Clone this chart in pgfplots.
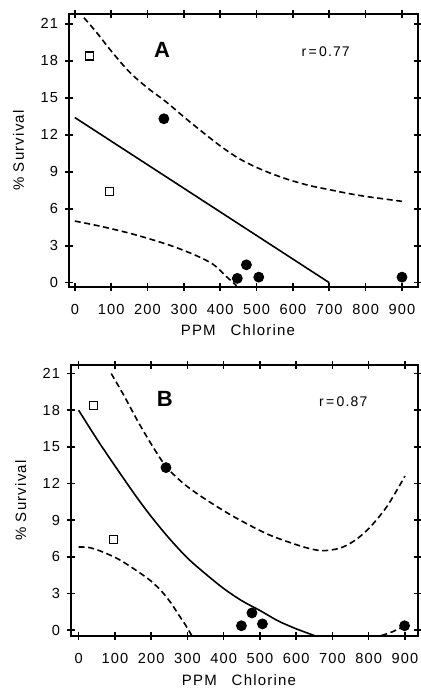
\documentclass[border=0pt]{standalone}
\usepackage{fontspec}
\setmainfont{Liberation Sans}
\newfontfamily\spaced[LetterSpace=8]{Liberation Sans}
\usepackage{pgfplots}
\pgfplotsset{compat=1.18}

\pgfplotsset{
  chl/.style={
    scale only axis,
    xtick={0,100,...,900},
    ytick={0,3,...,21},
    tick align=center,
    major tick length=4pt,
    axis line style={line width=1pt},
    every tick/.style={line width=0.8pt, black},
    tick label style={font=\fontsize{7.3}{7}\spaced},
    xticklabel style={yshift=-3pt},
    /pgf/number format/assume math mode=true,
    xlabel={PPM\quad Chlorine},
    ylabel={\% Survival},
    label style={font=\fontsize{7.5}{8}\spaced},
    ylabel style={at={(axis description cs:-0.145,0.5)}, anchor=center},
  },
  pts/.style={only marks, mark=*, mark size=2.5pt, black},
  sqs/.style={only marks, mark=square, mark size=2pt, black, mark options={line width=0.6pt}},
  fitline/.style={black, line width=0.8pt, smooth, no marks},
  band/.style={black, line width=0.8pt, smooth, no marks, dash pattern=on 3pt off 1.8pt},
}

\begin{document}
\begin{tikzpicture}
% page = 420 x 689 px at 0.5pt per px, top axis corner near px (70,14)
\path[use as bounding box] (-34.5pt,7pt) rectangle (175.5pt,-337.5pt);

% panel A
\begin{axis}[chl,
  at={(0,0)}, anchor=north west,
  width=174.5pt, height=136.5pt,
  xmin=-16, xmax=944, ymin=-0.35, ymax=21.8,
  xlabel style={at={(axis description cs:0.484,-0.158)}, anchor=center},
]
\addplot[sqs] coordinates {(40,18.4) (95,7.4)};
\addplot[pts] coordinates {(245,13.3) (447,0.35) (472,1.45) (506,0.45) (900,0.45)};
\addplot[fitline] coordinates {(0,13.4) (700,0)};
\addplot[band] coordinates {
  (25,21.5) (60,20.3) (100,18.8) (150,17.1) (200,15.8) (250,14.7)
  (300,13.45) (350,12.25) (400,11.1) (450,10.1) (500,9.35) (550,8.75)
  (600,8.25) (650,7.85) (700,7.55) (750,7.25) (800,7.0) (850,6.8) (900,6.6)};
\addplot[band] coordinates {
  (0,5.0) (75,4.55) (165,3.9) (260,3.05) (330,2.25) (380,1.5) (415,0.55) (445,-0.25)};
\node[font=\fontsize{11}{11}\selectfont\bfseries] at (axis cs:240,18.9) {A};
\node[font=\fontsize{7}{7}\spaced] at (axis cs:690,18.75) {r\,=\,0.77};
\end{axis}

% panel B
\begin{axis}[chl,
  at={(1pt,-175.5pt)}, anchor=north west,
  width=173.5pt, height=135.5pt,
  xmin=-21, xmax=936, ymin=-0.49, ymax=21.7,
  xlabel style={at={(axis description cs:0.484,-0.162)}, anchor=center},
]
\addplot[sqs] coordinates {(41,18.4) (96,7.4)};
\addplot[pts] coordinates {(241,13.3) (449,0.35) (478,1.4) (507,0.5) (899,0.35)};
\addplot[fitline] coordinates {
  (0,18.0) (60,15.2) (150,11.3) (200,9.3) (250,7.5) (300,5.9) (350,4.6)
  (400,3.4) (450,2.4) (500,1.6) (550,0.75) (600,0.1) (650,-0.45)};
\addplot[band] coordinates {
  (90,21.0) (125,19.2) (165,17.0) (205,15.0) (241,13.4) (285,12.1) (330,11.1)
  (390,9.95) (445,9.0) (525,7.8) (615,6.85) (670,6.5) (720,6.7) (760,7.3)
  (800,8.3) (850,10.1) (900,12.6)};
\addplot[band] coordinates {
  (0,6.8) (30,6.75) (66,6.4) (110,5.8) (158,4.9) (200,4.0) (231,3.1)
  (255,2.2) (277,1.2) (295,0.4) (312,-0.45)};
\addplot[band] coordinates {(835,-0.45) (865,-0.15) (900,0.35)};
\node[font=\fontsize{11}{11}\selectfont\bfseries] at (axis cs:238,18.95) {B};
\node[font=\fontsize{7}{7}\spaced] at (axis cs:730,18.7) {r\,=\,0.87};
\end{axis}
\end{tikzpicture}
\end{document}
